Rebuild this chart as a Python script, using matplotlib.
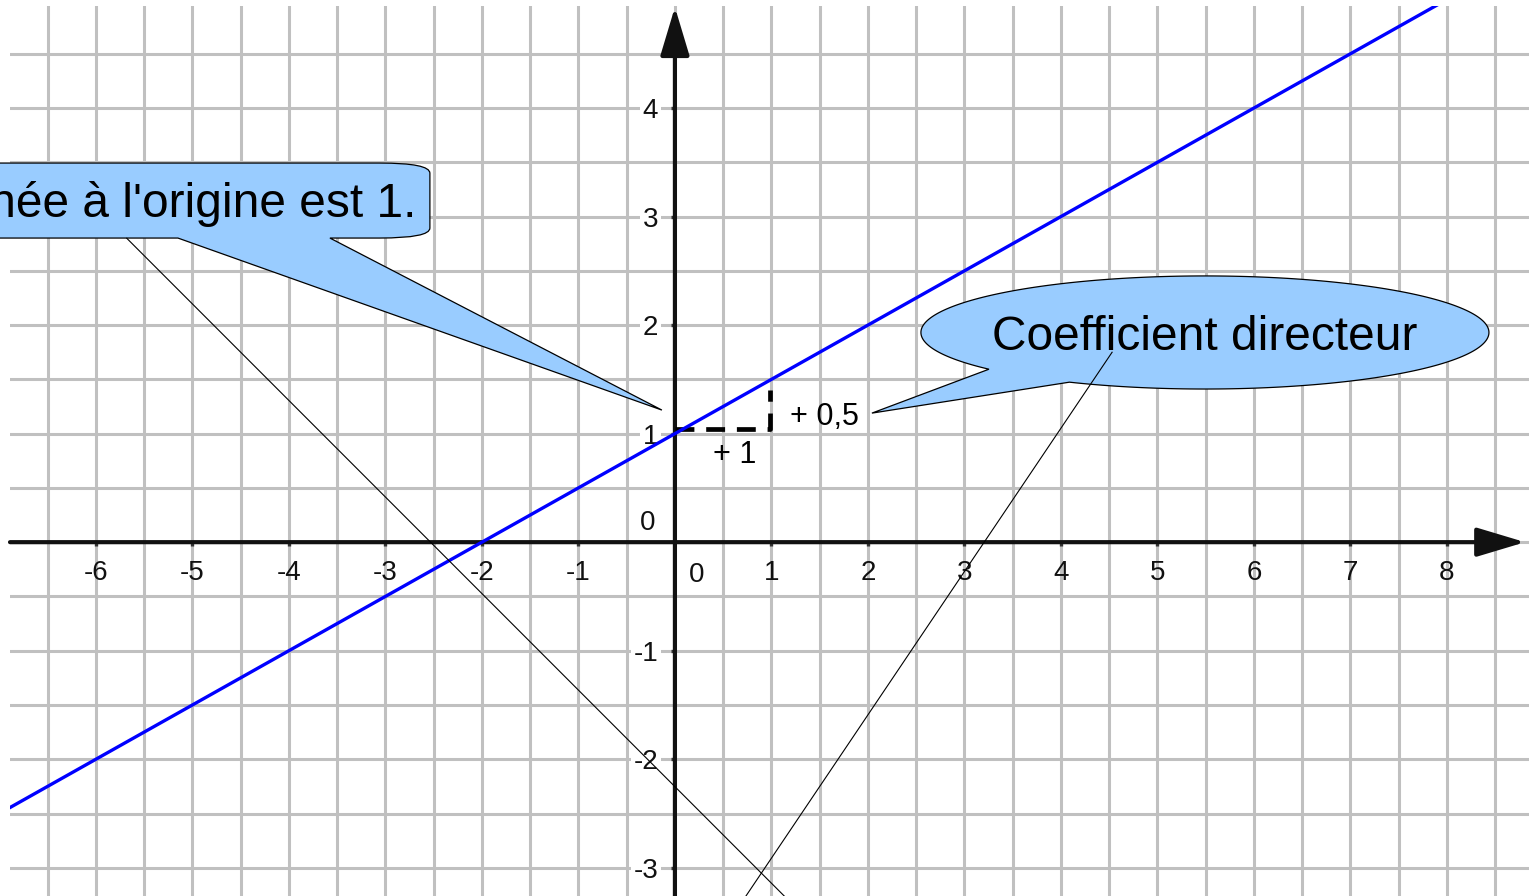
import numpy as np
import matplotlib
matplotlib.use("Agg")
import matplotlib.pyplot as plt
from matplotlib.path import Path
from matplotlib.patches import PathPatch
from matplotlib.ticker import MultipleLocator

plt.rcParams["font.family"] = ["Liberation Sans", "DejaVu Sans"]
plt.rcParams["axes.unicode_minus"] = False

# repère
X_RANGE = (-6.89, 8.85)
Y_RANGE = (-3.26, 4.94)
X_TICKS = [-6, -5, -4, -3, -2, -1, 1, 2, 3, 4, 5, 6, 7, 8]
Y_TICKS = [-3, -2, -1, 1, 2, 3, 4]
X_ARROW_TIP = 8.81
Y_ARROW_TIP = 4.93

# droite y = 0.5x + 1 (extrémités lues hors cadre)
LINE_X = [-7.0, 9.0]
LINE_Y = [-2.5, 5.5]

# petit triangle de pente
STEP_X = [0.0, 0.985, 0.985]
STEP_Y = [1.04, 1.04, 1.40]
STEP_LABELS = ["+ 1", "+ 0,5"]
STEP_LABEL_X = [0.62, 1.55]
STEP_LABEL_Y = [0.80, 1.15]

# traits fins qui partent des bulles
THIN_1_X = [-5.68, 1.29]
THIN_1_Y = [2.80, -3.40]
THIN_2_X = [4.53, 0.63]
THIN_2_Y = [1.75, -3.40]

# bulle de gauche (rectangle arrondi + pointe)
LEFT_BOX = dict(left=-7.4, right=-2.539, top=3.493, bottom=2.802,
                flat_end=-3.06, corner_top=3.40, corner_bottom=2.894)
LEFT_BASE_X = [-3.575, -5.150]
LEFT_TIP = (-0.135, 1.217)
LEFT_TEXT = "L'ordonnée à l'origine est 1."
LEFT_TEXT_POS = (-2.68, 3.0)

# bulle de droite (ellipse + pointe)
RIGHT_CENTER = (5.492, 1.932)
RIGHT_SEMI = (2.943, 0.521)
RIGHT_BASE_ANGLES = (220.5, 241.5)
RIGHT_TIP = (2.041, 1.189)
RIGHT_TEXT = "Coefficient directeur"
RIGHT_TEXT_POS = (5.49, 1.77)

BUBBLE_FC = "#99ccff"
GRID_COLOR = "#c0c0c0"
AXIS_COLOR = "#111111"


def left_bubble_path():
    b = LEFT_BOX
    verts = [
        (b["left"], b["top"]),
        (b["flat_end"], b["top"]),
        (b["right"], b["top"]),
        (b["right"], b["corner_top"]),
        (b["right"], b["corner_bottom"]),
        (b["right"], b["bottom"]),
        (b["flat_end"], b["bottom"]),
        (LEFT_BASE_X[0], b["bottom"]),
        LEFT_TIP,
        (LEFT_BASE_X[1], b["bottom"]),
        (b["left"], b["bottom"]),
        (b["left"], b["top"]),
    ]
    codes = [Path.MOVETO, Path.LINETO, Path.CURVE3, Path.CURVE3, Path.LINETO,
             Path.CURVE3, Path.CURVE3, Path.LINETO, Path.LINETO, Path.LINETO,
             Path.LINETO, Path.CLOSEPOLY]
    return Path(verts, codes)


def right_bubble_path():
    a0, a1 = RIGHT_BASE_ANGLES
    theta = np.radians(np.linspace(a1, a0 + 360, 240))
    cx, cy = RIGHT_CENTER
    rx, ry = RIGHT_SEMI
    verts = list(zip(cx + rx * np.cos(theta), cy + ry * np.sin(theta)))
    verts.append(RIGHT_TIP)
    verts.append(verts[0])
    codes = [Path.MOVETO] + [Path.LINETO] * (len(verts) - 2) + [Path.CLOSEPOLY]
    return Path(verts, codes)


def main():
    fig = plt.figure(figsize=(15.29, 8.96), dpi=100)
    ax = fig.add_axes([10 / 1529, 0, 1519 / 1529, 890 / 896])
    ax.set_xlim(*X_RANGE)
    ax.set_ylim(*Y_RANGE)

    # quadrillage tous les 0,5
    ax.xaxis.set_minor_locator(MultipleLocator(0.5))
    ax.yaxis.set_minor_locator(MultipleLocator(0.5))
    ax.set_xticks(X_TICKS)
    ax.set_yticks(Y_TICKS)
    ax.grid(True, which="both", color=GRID_COLOR, lw=2.2, zorder=0)
    ax.set_axisbelow(True)

    for side in ("top", "right"):
        ax.spines[side].set_visible(False)
    ax.spines["left"].set_position(("data", 0))
    ax.spines["bottom"].set_position(("data", 0))
    ax.spines["left"].set_color("none")
    ax.spines["bottom"].set_color("none")

    ax.tick_params(which="minor", length=0)
    ax.tick_params(which="major", length=3, width=2.4, color="#333333",
                   labelsize=20, labelcolor=AXIS_COLOR)
    ax.tick_params(axis="x", which="major", pad=10)
    ax.tick_params(axis="y", which="major", pad=9)
    for lbl in ax.get_yticklabels():
        lbl.set_bbox(dict(facecolor="white", edgecolor="none", pad=2))

    # axes avec flèches
    arrow = dict(arrowstyle="-|>,head_length=1.5,head_width=0.45", lw=3,
                 color=AXIS_COLOR, mutation_scale=20, shrinkA=0, shrinkB=0)
    ax.annotate("", xy=(X_ARROW_TIP, 0), xytext=(X_RANGE[0], 0),
                arrowprops=arrow, annotation_clip=False, zorder=3)
    ax.annotate("", xy=(0, Y_ARROW_TIP), xytext=(0, Y_RANGE[0]),
                arrowprops=arrow, annotation_clip=False, zorder=3)
    ax.text(0.228, -0.30, "0", fontsize=20, color=AXIS_COLOR,
            ha="center", va="center")
    ax.text(-0.28, 0.175, "0", fontsize=20, color=AXIS_COLOR,
            ha="center", va="center")

    # triangle de pente
    ax.plot(STEP_X, STEP_Y, color="black", lw=3.4,
            linestyle=(0, (4, 2.5)), zorder=4)
    for label, x, y in zip(STEP_LABELS, STEP_LABEL_X, STEP_LABEL_Y):
        ax.text(x, y, label, fontsize=22, ha="center", va="center", zorder=6)

    # la droite
    ax.plot(LINE_X, LINE_Y, color="#0000ff", lw=2.4, zorder=5)

    # bulles
    ax.add_patch(PathPatch(left_bubble_path(), facecolor=BUBBLE_FC,
                           edgecolor="black", lw=0.9, zorder=6, clip_on=False))
    ax.add_patch(PathPatch(right_bubble_path(), facecolor=BUBBLE_FC,
                           edgecolor="black", lw=0.9, zorder=6))
    ax.text(*LEFT_TEXT_POS, LEFT_TEXT, fontsize=34.5, ha="right",
            va="baseline", zorder=7)
    ax.text(*RIGHT_TEXT_POS, RIGHT_TEXT, fontsize=34.5, ha="center",
            va="baseline", zorder=7)

    # traits fins
    ax.plot(THIN_1_X, THIN_1_Y, color="black", lw=0.8, zorder=8)
    ax.plot(THIN_2_X, THIN_2_Y, color="black", lw=0.8, zorder=8)

    fig.savefig("out.png", dpi=100, facecolor="white")
    plt.close(fig)


if __name__ == "__main__":
    main()
